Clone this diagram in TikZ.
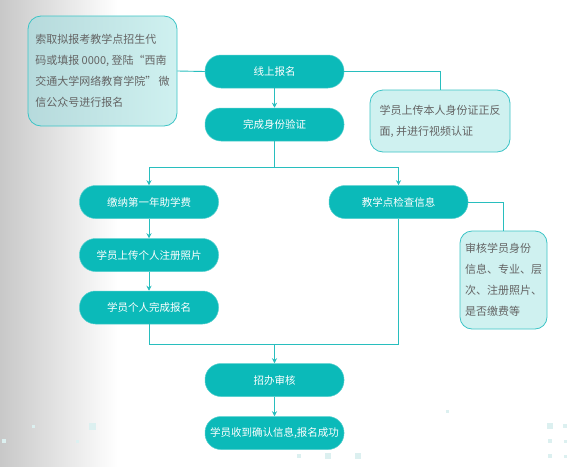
\documentclass[tikz,border=0pt]{standalone}
\usepackage{fontspec}
\newfontfamily\cjk{Noto Sans CJK SC}
\usetikzlibrary{arrows.meta}
\definecolor{pill}{RGB}{11,186,185}
\definecolor{wire}{RGB}{40,190,190}
\definecolor{noteB}{RGB}{60,196,198}
\definecolor{noteF}{RGB}{207,241,240}
\definecolor{noteL}{RGB}{182,218,220}
\definecolor{noteT}{RGB}{100,100,100}
\definecolor{bgL}{RGB}{200,200,200}
\definecolor{deco}{RGB}{220,240,240}
\tikzset{
  pillbox/.style={rectangle, rounded corners=16pt, fill=pill, draw=pill!70!white, line width=0.5pt,
    minimum width=139pt, minimum height=33pt, inner sep=0pt, text=white,
    font=\cjk\fontsize{10.5}{12}\selectfont},
  notebox/.style={rectangle, rounded corners=13pt, draw=noteB, line width=0.8pt, inner sep=0pt},
  notetext/.style={align=left, text=noteT, inner sep=0pt, font=\cjk\fontsize{11}{21}\selectfont},
  wireline/.style={draw=wire, line width=0.9pt},
  arr/.style={wireline, -{Stealth[length=5pt,width=5pt]}},
  sq/.style={fill=deco, draw=none}
}
\begin{document}
\begin{tikzpicture}[x=1pt,y=-1pt]
\useasboundingbox (0,0) rectangle (580,466);
\fill[white] (0,0) rectangle (580,466);
\shade[left color=bgL, right color=white] (0,0) rectangle (118,466);
% decorative squares
\fill[sq] (31.5,424.5) rectangle ++(3,3);
\fill[sq] (88.5,422.5) rectangle ++(7,7);
\fill[sq] (2,439) rectangle ++(4,4);
\fill[sq] (75.5,439.5) rectangle ++(3,3);
\fill[sq] (445.5,409.5) rectangle ++(3,3);
\fill[sq] (547,423) rectangle ++(6,6);
\fill[sq] (563,424) rectangle ++(4,4);
\fill[sq] (548,439) rectangle ++(4,4);
\fill[sq] (563.5,439.5) rectangle ++(3,3);
\fill[sq] (548,454) rectangle ++(4,4);
\fill[sq] (563.5,454.5) rectangle ++(3,3);
\fill[sq] (297,454) rectangle ++(4,4);
\fill[sq] (325,453) rectangle ++(6,6);
\fill[sq] (355,453) rectangle ++(6,6);

% main flow nodes
\node[pillbox] (a) at (274.5,71.5) {线上报名};
\node[pillbox] (b) at (274.5,124.5) {完成身份验证};
\node[pillbox] (c) at (149,202) {缴纳第一年助学费};
\node[pillbox] (d) at (149,255) {学员上传个人注册照片};
\node[pillbox] (e) at (149,307.5) {学员个人完成报名};
\node[pillbox] (f) at (398.5,202) {教学点检查信息};
\node[pillbox] (g) at (274.5,380) {招办审核};
\node[pillbox] (h) at (274.5,433) {学员收到确认信息,报名成功};

% notes
\node[notebox, left color=noteL, right color=noteF, minimum width=149pt, minimum height=110pt] (n1) at (102.5,71) {};
\node[notetext] (t1) at (n1.center) {索取拟报考教学点招生代\\码或填报 0000, 登陆“西南\\交通大学网络教育学院” 微\\信公众号进行报名};
\node[notebox, fill=noteF, minimum width=140pt, minimum height=62pt] (n2) at (440,121) {};
\node[notetext] (t2) at (n2.center) {学员上传本人身份证正反\\面, 并进行视频认证};
\node[notebox, rounded corners=12pt, fill=noteF, minimum width=87pt, minimum height=98pt] (n3) at (503.5,280) {};
\node[notetext] (t3) at (n3.center) {审核学员身份\\信息、专业、层\\次、注册照片、\\是否缴费等};

% junctions
\coordinate (j1) at (274.5,167);
\coordinate (j2) at (274.5,344);

% connectors
\draw[wireline] (n1.east) -- (a.west);
\draw[wireline] (a.east) -| (n2.north);
\draw[arr] (a) -- (b);
\draw[wireline] (b) -- (j1);
\draw[arr] (j1) -| (c);
\draw[arr] (j1) -| (f);
\draw[arr] (c) -- (d);
\draw[arr] (d) -- (e);
\draw[wireline] (f.east) -| (n3.north);
\draw[wireline] (e) |- (j2);
\draw[wireline] (f) |- (j2);
\draw[arr] (j2) -- (g);
\draw[arr] (g) -- (h);
\end{tikzpicture}
\end{document}
